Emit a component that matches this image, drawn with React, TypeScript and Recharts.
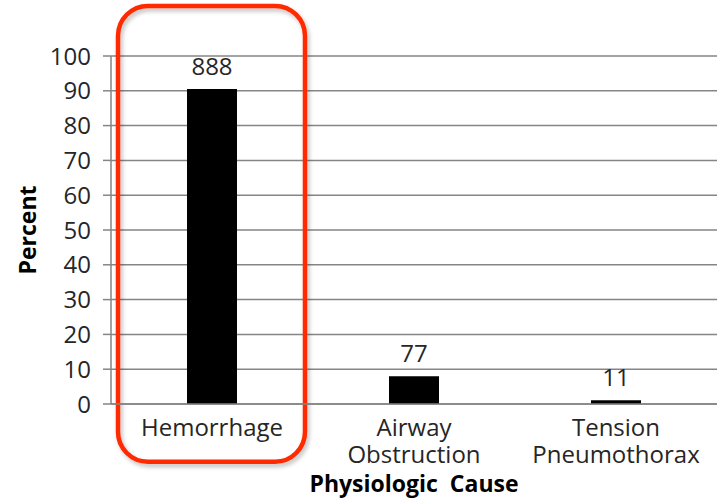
import React from 'react';
import { BarChart, Bar, XAxis, YAxis, CartesianGrid, LabelList, Label, ReferenceArea } from 'recharts';

const causes = ['Hemorrhage', 'Airway Obstruction', 'Tension Pneumothorax'];
const percents = [90.5, 8, 1.1];
const barLabels = ['888', '77', '11'];
const yTicks = [0, 10, 20, 30, 40, 50, 60, 70, 80, 90, 100];

const data = causes.map((cause, i) => ({ cause, percent: percents[i], label: barLabels[i] }));

const FONT = '"Open Sans", sans-serif';
const TEXT = '#262626';
const GRID = '#858585';

const CategoryTick = (props: any) => {
    const { x, y, payload } = props;
    const lines = String(payload.value).split(' ');
    return (
        <text x={x} y={y} textAnchor="middle" fill={TEXT} fontFamily={FONT} fontSize={24}>
            {lines.map((line, i) => (
                <tspan key={i} x={x} dy={i === 0 ? 32 : 27}>
                    {line}
                </tspan>
            ))}
        </text>
    );
};

const PercentLabel = (props: any) => {
    const { viewBox } = props;
    const cy = viewBox.y + viewBox.height / 2;
    return (
        <text
            x={27}
            y={cy}
            transform={`rotate(-90, 27, ${cy})`}
            textAnchor="middle"
            dominantBaseline="central"
            fill="#000"
            fontFamily={FONT}
            fontSize={23}
            fontWeight="bold"
        >
            Percent
        </text>
    );
};

const Highlight = (props: any) => {
    const { x, y, width, height } = props;
    return (
        <g>
            <defs>
                <filter id="hlShadow" x="-10%" y="-10%" width="120%" height="120%">
                    <feDropShadow dx="2" dy="3" stdDeviation="2" floodColor="#000" floodOpacity="0.25" />
                </filter>
            </defs>
            <rect
                x={x + 7}
                y={y}
                width={width - 15}
                height={height}
                rx={30}
                ry={30}
                fill="none"
                stroke="#ff2a00"
                strokeWidth={4.5}
                filter="url(#hlShadow)"
            />
        </g>
    );
};

const App = () => {
    return (
        <div style={{ position: 'absolute', left: 0, top: 0, background: '#fff' }}>
            <BarChart
                width={719}
                height={500}
                data={data}
                margin={{ top: 56, right: 2, left: 0, bottom: 0 }}
                barCategoryGap={0}
            >
                <CartesianGrid vertical={false} stroke={GRID} strokeWidth={1.5} />
                <YAxis
                    type="number"
                    domain={[0, 100]}
                    ticks={yTicks}
                    interval={0}
                    width={111}
                    tickSize={8}
                    tickMargin={12}
                    axisLine={{ stroke: GRID, strokeWidth: 1.5 }}
                    tickLine={{ stroke: GRID, strokeWidth: 1.5 }}
                    tick={{ fill: TEXT, fontFamily: FONT, fontSize: 24 }}
                >
                    <Label content={<PercentLabel />} />
                </YAxis>
                <XAxis
                    dataKey="cause"
                    height={96}
                    interval={0}
                    tickSize={0}
                    tickMargin={0}
                    tickLine={false}
                    axisLine={{ stroke: GRID, strokeWidth: 1.5 }}
                    tick={<CategoryTick />}
                >
                    <Label
                        value={'Physiologic\u00A0 Cause'}
                        position="insideBottom"
                        offset={8}
                        fill="#000"
                        fontFamily={FONT}
                        fontSize={23}
                        fontWeight="bold"
                    />
                </XAxis>
                <Bar dataKey="percent" fill="#000" barSize={50} isAnimationActive={false}>
                    <LabelList
                        dataKey="label"
                        position="top"
                        offset={14}
                        fill={TEXT}
                        fontFamily={FONT}
                        fontSize={24}
                    />
                </Bar>
                <ReferenceArea
                    x1="Hemorrhage"
                    x2="Hemorrhage"
                    y1={-16.6}
                    y2={114.4}
                    ifOverflow="visible"
                    shape={<Highlight />}
                />
            </BarChart>
        </div>
    );
};

export default App;
